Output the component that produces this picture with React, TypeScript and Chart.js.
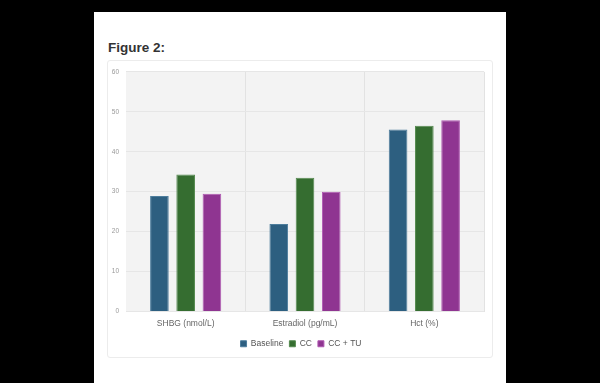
import React, { useEffect, useRef } from 'react';
import { Chart, registerables } from 'chart.js';
Chart.register(...registerables);

const categories = ['SHBG (nmol/L)', 'Estradiol (pg/mL)', 'Hct (%)'];
const seriesNames = ['Baseline', 'CC', 'CC + TU'];
const baselineValues = [28.9, 21.9, 45.6];
const ccValues = [34.3, 33.5, 46.5];
const ccTuValues = [29.5, 30.0, 47.9];
const yMin = 0;
const yMax = 60;
const yStep = 10;

const fillColors = ['#2d5f80', '#356d30', '#8f3591'];
const edgeColors = ['#4d7d9c', '#558a4f', '#b05ab2'];

const plotBg = {
  id: 'plotBg',
  afterLayout(chart: any) {
    const lg = chart.legend;
    if (lg) {
      lg.left += 5;
      lg.right += 5;
      lg.top += 2;
      lg.bottom += 2;
    }
  },
  beforeDraw(chart: any) {
    const { ctx, chartArea } = chart;
    if (!chartArea) return;
    ctx.save();
    ctx.fillStyle = '#f3f3f3';
    ctx.fillRect(chartArea.left, chartArea.top, chartArea.right - chartArea.left, chartArea.bottom - chartArea.top);
    ctx.restore();
  },
};

function ChartView() {
  const ref = useRef<HTMLCanvasElement | null>(null);
  useEffect(() => {
    if (!ref.current) return;
    const values = [baselineValues, ccValues, ccTuValues];
    const chart = new Chart(ref.current, {
      type: 'bar',
      data: {
        labels: categories,
        datasets: seriesNames.map((name, i) => ({
          label: name,
          data: values[i],
          backgroundColor: fillColors[i],
          borderColor: edgeColors[i],
          borderWidth: 1,
          categoryPercentage: 0.66,
          barPercentage: 0.71,
        })),
      },
      options: {
        animation: false,
        responsive: false,
        maintainAspectRatio: false,
        layout: { padding: { top: 7, right: 8, left: 0, bottom: 1 } },
        plugins: {
          tooltip: { enabled: false },
          legend: {
            position: 'bottom',
            labels: {
              boxWidth: 6,
              boxHeight: 6,
              padding: 6,
              color: '#555',
              font: { family: 'Liberation Sans, Arial, sans-serif', size: 8.5 },
            },
          },
        },
        scales: {
          x: {
            grid: {
              offset: true,
              drawTicks: false,
              color: (c: any) => (c.index === 0 || c.index === 3 ? 'rgba(0,0,0,0)' : '#e2e2e2'),
            },
            border: { display: false },
            ticks: {
              color: '#666',
              padding: 7,
              font: { family: 'Liberation Sans, Arial, sans-serif', size: 8.5 },
            },
            afterFit: (s: any) => { s.height = 20; },
          },
          y: {
            min: yMin,
            max: yMax,
            ticks: {
              stepSize: yStep,
              color: '#999',
              padding: 7,
              font: { family: 'Liberation Sans, Arial, sans-serif', size: 6.5 },
            },
            grid: { drawTicks: false, color: '#e6e6e6' },
            border: { display: false },
            afterFit: (s: any) => { s.width = 18; },
          },
        },
      },
      plugins: [plotBg],
    });
    return () => chart.destroy();
  }, []);
  return <canvas ref={ref} width={384} height={296} style={{ display: 'block', width: 384, height: 296 }} />;
}

export default function App() {
  return (
    <div style={{ position: 'fixed', left: 0, top: 0, width: 600, height: 383, background: '#000', overflow: 'hidden' }}>
      <div style={{ position: 'absolute', left: 94, top: 12, width: 412, height: 380, background: '#fff' }} />
      <div
        style={{
          position: 'absolute',
          left: 108,
          top: 40,
          fontFamily: 'Liberation Sans, Arial, sans-serif',
          fontWeight: 700,
          fontSize: 13.5,
          color: '#333',
          lineHeight: '16px',
        }}
      >
        Figure 2:
      </div>
      <div
        style={{
          position: 'absolute',
          left: 107,
          top: 60,
          width: 384,
          height: 296,
          border: '1px solid #ececec',
          borderRadius: 3,
          background: '#fff',
        }}
      >
        <ChartView />
      </div>
    </div>
  );
}
